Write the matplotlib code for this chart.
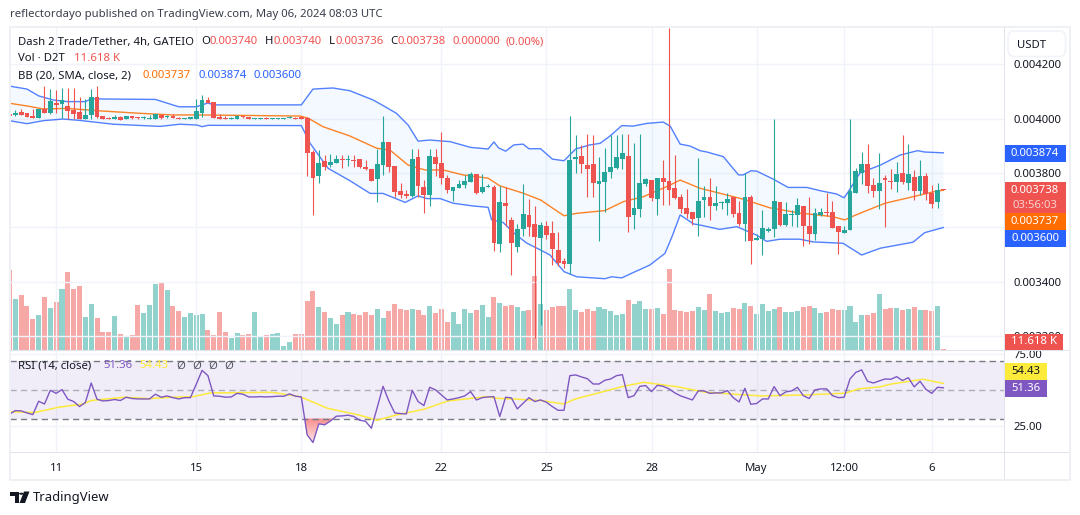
import numpy as np
import matplotlib
matplotlib.use("Agg")
import matplotlib.pyplot as plt
from matplotlib.patches import Rectangle, FancyBboxPatch, Polygon
from matplotlib.colors import LinearSegmentedColormap
from matplotlib.ticker import FuncFormatter

# ---- data (prices in millionths of USDT, first candle has index -1) ----
opens = [4017,4013,4023,4020,4009,4002,4035,4021,4057,4053,
         4046,4031,4024,3998,4013,4079,4009,4002,3998,4006,
         3998,4009,4006,4002,3998,3998,4013,4006,4009,4002,
         3998,3998,3998,4020,4068,4061,4006,4002,3998,3998,
         4009,4006,3998,3998,4002,4000,4000,4000,4002,4002,
         4004,4003,3877,3789,3844,3829,3837,3851,3848,3848,
         3851,3822,3815,3778,3829,3914,3826,3734,3723,3716,
         3859,3749,3719,3859,3837,3782,3734,3745,3756,3767,
         3796,3730,3749,3749,3540,3690,3628,3529,3595,3646,
         3613,3562,3606,3580,3518,3477,3466,3852,3863,3829,
         3833,3760,3767,3804,3819,3852,3863,3646,3668,3760,
         3774,3705,3782,3771,3745,3712,3672,3657,3635,3701,
         3712,3679,3690,3690,3712,3653,3613,3712,3554,3558,
         3587,3595,3694,3609,3646,3646,3679,3606,3576,3646,
         3657,3657,3606,3580,3591,3727,3800,3833,3756,3734,
         3782,3771,3767,3800,3763,3785,3734,3789,3727,3694,
         3740]
highs = [4017,4031,4035,4020,4035,4036,4119,4108,4105,4112,
         4112,4112,4079,4072,4108,4119,4009,4006,4013,4009,
         4009,4009,4006,4009,4013,4017,4013,4013,4017,4006,
         4002,4006,4072,4086,4079,4061,4017,4009,4006,4013,
         4009,4006,4002,4002,4006,4002,4002,4002,4009,4006,
         4006,4005,3884,3884,3866,3870,3866,3866,3866,3866,
         3851,3848,3815,3888,4009,3914,3826,3763,3738,3888,
         3888,3774,3888,3888,3951,3793,3749,3774,3793,3804,
         3796,3796,3760,3756,3752,3749,3639,3613,3760,3705,
         3679,3620,3624,3624,3584,3488,4009,3940,3903,3943,
         3940,3859,3892,3940,3940,3943,3943,3910,3943,3782,
         3774,3782,3848,4332,3866,3723,3741,3657,3855,3752,
         3782,3752,3697,3727,3712,3697,3800,3719,3576,3664,
         3602,4000,3694,3694,3664,3708,3679,3712,3672,3672,
         3727,3697,3606,3606,4000,3818,3877,3907,3782,3874,
         3793,3815,3840,3940,3907,3811,3848,3800,3756,3763,
         3740]
lows = [4009,4010,4013,4007,4003,4002,4020,4017,4019,4003,
        3998,3998,3998,3998,3998,4002,3998,3998,3998,3995,
        3998,3998,3998,3998,3998,3998,3998,4002,4002,3998,
        3998,3998,3998,4006,4057,4002,3998,3998,3998,3998,
        4002,3998,3998,3998,3998,3998,3998,3998,4002,3999,
        3998,3789,3647,3765,3811,3822,3837,3818,3826,3822,
        3818,3811,3771,3694,3793,3804,3712,3708,3708,3712,
        3712,3653,3679,3789,3760,3727,3697,3745,3745,3767,
        3723,3727,3749,3514,3510,3606,3426,3510,3569,3569,
        3196,3242,3558,3463,3459,3452,3430,3800,3800,3712,
        3712,3551,3657,3782,3815,3815,3584,3595,3639,3752,
        3697,3646,3683,3683,3705,3653,3635,3609,3569,3640,
        3628,3664,3668,3646,3639,3606,3551,3466,3554,3499,
        3584,3565,3606,3606,3606,3602,3532,3540,3554,3642,
        3642,3598,3503,3580,3591,3727,3760,3727,3712,3668,
        3602,3741,3730,3760,3738,3701,3719,3701,3672,3672,
        3736]
closes = [4009,4020,4013,4007,4003,4036,4020,4064,4050,4068,
          4028,4017,3998,4013,4079,4006,3998,3998,4006,3995,
          4009,4002,4002,4006,4002,4017,4002,4009,4002,3998,
          4002,4006,4028,4068,4057,4002,3998,3998,4002,4009,
          4006,3998,4002,4002,3998,4002,4002,4002,4006,3999,
          4000,3875,3782,3837,3822,3840,3851,3848,3851,3844,
          3822,3815,3771,3833,3914,3822,3730,3719,3716,3851,
          3752,3719,3863,3833,3782,3738,3749,3760,3771,3796,
          3727,3749,3752,3543,3694,3679,3543,3595,3650,3602,
          3565,3609,3573,3521,3470,3466,3848,3859,3833,3815,
          3763,3771,3804,3822,3859,3874,3639,3672,3763,3778,
          3708,3782,3767,3738,3708,3668,3650,3631,3697,3712,
          3679,3690,3694,3705,3650,3613,3712,3551,3562,3598,
          3595,3697,3609,3650,3650,3683,3606,3576,3653,3657,
          3653,3598,3584,3591,3734,3807,3833,3752,3734,3763,
          3774,3767,3796,3767,3796,3734,3789,3723,3686,3738,
          3738]
volumes = [241,154,166,133,94,106,160,127,145,184,
           235,184,193,100,139,97,55,55,103,49,
           40,46,136,112,136,199,202,181,133,118,
           100,112,106,109,61,46,115,55,37,52,
           46,49,115,40,46,49,52,13,25,49,
           49,148,178,130,115,97,79,106,115,109,
           106,115,106,124,97,118,139,124,121,124,
           121,106,133,112,124,85,115,79,124,112,
           121,136,100,160,142,133,136,130,118,121,
           223,139,121,130,133,133,184,121,115,124,
           118,130,124,118,106,109,151,139,148,124,
           124,127,109,244,121,118,115,118,130,121,
           169,118,112,115,127,124,142,133,109,139,
           118,124,130,115,115,118,130,133,127,112,
           115,124,121,121,133,85,106,106,112,169,
           124,127,127,121,124,130,121,121,118,133,
           3]
rsi = [33,35.5,35.3,33.9,32.7,42,40.1,49.6,47.5,50.1,
       43.4,41.8,38.3,41.1,54.7,43.4,42.2,42.5,43.2,42.5,
       44.8,43.9,43.6,43.6,43.6,46.9,44.8,45.7,44.5,43.6,
       44.5,44.5,53.8,63.5,59.8,45.7,45.5,44.8,45,47.5,
       46.9,45,45,45.2,45,45.2,45.5,45.5,47.1,45.5,
       45,18.6,13.3,26.3,25.6,28.3,31.6,31.8,32.3,31.4,
       28.8,28.1,23.2,37.6,52.4,42.2,33.9,33.4,33.2,49.6,
       41.8,39,51.7,49.9,46.4,42.9,43.6,44.5,45.7,48.7,
       42.9,44.5,45,45.2,31.4,44.8,44.3,36.7,40.6,44.5,
       41.8,42.9,41.3,38.3,35.7,35.7,59.8,60.3,58.9,57.7,
       54,54,56.6,57.5,59.8,60.5,44.5,45.9,52.4,52.9,
       48.7,53.1,52.4,50.6,47.8,45.7,44.3,42.9,49.2,49.2,
       47.5,47.8,47.8,49.4,44.5,41.5,51,39.9,40.4,43.6,
       43.6,52.2,45.9,48.5,49.2,51.7,45.9,43.9,49.9,50.6,
       50.6,45.9,44.5,44.8,57.5,62.1,63.8,55.9,54.7,56.1,
       57.5,57.3,59.1,56.4,58.4,52,55.9,50.3,47.5,51.7,
       51.36]
rsi_ma_idx = [-1,3.3,7.4,11.6,13,18.7,22.8,26.9,30.5,33.4,44,48.8,53.5,58.8,62,65.3,70,74.1,80.7,82.4,86,90,
              94,95.8,104,107.6,113.5,118.3,127.7,135.4,142.2,144.5,148.1,150.1,155.5,159]
rsi_ma = [34.8,34.1,37.8,40.1,42.5,44.8,43.8,44.8,45.2,47.8,48.2,45.2,37.1,32.5,28.8,32.5,36.4,42.2,45.2,44.1,43.4,42.5,
          40.1,43.4,52.2,55.2,52,48.2,45.7,46.4,47.6,50.6,52,54,57.3,54.43]
upper_idx = [-1,2,4,6.5,9,12,13,24,28,31,33,34,49,51,54.4,57.3,61.3,62.8,65.3,67.3,69,71,74.5,78,81,82,82.8,84,85.4,87,88,90,92,94,96,98.4,100.2,101.9,103.9,105.8,108.2,111,112.2,113.9,115.6,117.3,118.5,121.3,123.9,124.7,126,127,129.8,132.4,135.6,137.9,140.7,142,142.7,144.7,148.2,151.6,154.6,155.8,159]
upper = [4119,4108,4083,4068,4062,4062,4072,4070,4043,4043,4057,4050,4050,4108,4112,4102,4068,4050,4019,3976,3917,3921,3915,3894,3888,3914,3892,3880,3903,3906,3889,3889,3851,3845,3888,3903,3909,3936,3974,3972,3982,3987,3972,3906,3899,3882,3877,3860,3793,3793,3808,3807,3778,3747,3747,3735,3723,3709,3731,3800,3829,3866,3882,3877,3874]
mid_idx = [-1,2,4.8,8.8,14.5,21.4,27,31.6,48.8,50.2,52.7,57.3,61.9,64.2,67.3,70.2,73.3,76.7,81,83,87,90,94,96.2,101,104.2,107.6,111.6,113.9,117.3,124.7,129.3,134.4,140,142.1,144,149,153.8,157.3,159]
mid = [4056,4046,4035,4037,4028,4019,4013,4013,4009,4001,3970,3936,3891,3884,3829,3811,3811,3793,3781,3753,3726,3701,3643,3652,3662,3695,3713,3750,3774,3744,3704,3672,3653,3640,3628,3646,3689,3713,3731,3737]
lower_idx = [-1,2,4.8,8.2,11,16.8,24.8,28.2,31.1,32,33,49,50.5,53.6,57.3,60.8,63,66.8,69,70.5,72.8,75,78.4,81,81.6,83.6,85.4,87.6,90,91.6,94,96.2,101,102.2,103.9,105.8,108.7,111.3,112.5,113.9,116.2,117.3,120.7,123.6,127,128.7,131,134.4,136.7,141.8,145,148.2,153.8,155.8,159]
lower = [3992,3981,3992,3998,3993,3979,3971,3979,3976,3970,3975,3974,3909,3817,3772,3725,3725,3692,3716,3706,3706,3689,3679,3674,3628,3618,3580,3543,3517,3499,3438,3419,3412,3419,3415,3434,3462,3505,3566,3646,3613,3609,3593,3603,3572,3549,3557,3557,3547,3542,3499,3524,3546,3581,3600]
date_ticks = [7,31,49,73,91,109,127,142,157]
date_labels = ["11","15","18","22","25","28","May","12:00","6"]
price_ticks = [0.0042,0.0040,0.0038,0.0036,0.0034,0.0032]
rsi_ticks = [75,25]

W, H = 1080, 515
plt.rcParams['font.family'] = ['Noto Sans', 'DejaVu Sans']
GREEN, RED = '#26a69a', '#ef5350'
GRID = '#f0f3fa'
TEXT = '#131722'
FS = 8.15

fig = plt.figure(figsize=(W/100, H/100), dpi=100, facecolor='white')

def axpx(x0, y0, x1, y1, **kw):
    return fig.add_axes([x0/W, 1-y1/H, (x1-x0)/W, (y1-y0)/H], **kw)

def t(x, y, s, color=TEXT, size=FS, ha='left', **kw):
    return fig.text(x/W, 1-y/H, s, color=color, fontsize=size, ha=ha, va='center', zorder=20, **kw)

def box(x0, y0, x1, y1, color, z=15):
    fig.add_artist(Rectangle((x0/W, 1-y1/H), (x1-x0)/W, (y1-y0)/H, transform=fig.transFigure,
                             facecolor=color, edgecolor='none', zorder=z))

idx = np.arange(-1, 160)
o, h, l, c = (np.array(v)/1e6 for v in (opens, highs, lows, closes))
xlim = ((10-15.3)/5.837, (1004-15.3)/5.837)
plo, phi = 0.004-(350-118.5)*3.67e-6, 0.004+(118.5-27)*3.67e-6

# volume (under the price panel)
vax = axpx(10, 27, 1004, 350)
vax.set_xlim(xlim); vax.set_ylim(0, 969); vax.axis('off')
up = c >= o
vax.bar(idx, volumes, width=0.86, color=np.where(up, GREEN, RED), alpha=0.5, linewidth=0)

# price panel
ax = axpx(10, 27, 1004, 350)
ax.patch.set_visible(False)
ax.set_xlim(xlim); ax.set_ylim(plo, phi)
ax.yaxis.tick_right()
ax.set_yticks(price_ticks)
# the 0.003600 tick sits fully behind the value boxes, which carry that number
ax.yaxis.set_major_formatter(FuncFormatter(lambda v, _: "" if abs(v-0.0036) < 1e-7 else f"{v:.6f}"))
ax.tick_params(axis='y', length=0, pad=7, labelsize=FS, labelcolor=TEXT)
ax.set_xticks(date_ticks); ax.tick_params(axis='x', length=0, labelbottom=False)
ax.grid(True, color=GRID, lw=1); ax.set_axisbelow(True)
for s in ax.spines.values(): s.set_visible(False)

bx = np.r_[upper_idx, np.array(lower_idx)[::-1]]
by = np.r_[upper, np.array(lower)[::-1]]/1e6
ax.fill(bx, by, color='#2196f3', alpha=0.05, lw=0, zorder=1)
ax.plot(upper_idx, np.array(upper)/1e6, color='#2962ff', lw=1.0, alpha=0.8, zorder=2)
ax.plot(lower_idx, np.array(lower)/1e6, color='#2962ff', lw=1.0, alpha=0.8, zorder=2)
ax.plot(mid_idx, np.array(mid)/1e6, color='#ff6d00', lw=1.0, alpha=0.85, zorder=2)

cols = np.where(up, GREEN, RED)
ax.vlines(idx, l, h, colors=cols, lw=0.8, zorder=3)
ax.bar(idx, np.abs(c-o), bottom=np.minimum(o, c), width=0.82, color=cols, linewidth=0, zorder=4)

# RSI panel
rax = axpx(10, 350.5, 1004, 452)
rax.set_xlim(xlim); rax.set_ylim(6.7, 77.3)
rax.yaxis.tick_right()
rax.set_yticks(rsi_ticks)
rax.yaxis.set_major_formatter(FuncFormatter(lambda v, _: f"{v:.2f}"))
rax.tick_params(axis='y', length=0, pad=7, labelsize=FS, labelcolor=TEXT)
rax.set_xticks(date_ticks); rax.set_xticklabels(date_labels)
rax.tick_params(axis='x', length=0, pad=8, labelsize=FS, labelcolor=TEXT)
rax.grid(True, color=GRID, lw=1); rax.set_axisbelow(True)
for s in rax.spines.values(): s.set_visible(False)
rax.axhspan(30, 70, color='#7e57c2', alpha=0.1, lw=0, zorder=1)
for lv, a in ((70, 1), (50, .55), (30, 1)):
    rax.axhline(lv, color='#787b86', lw=1, dashes=(4.5, 3), alpha=a, zorder=2)
cmap = LinearSegmentedColormap.from_list('os', ['#fde7e7', '#f88d8d'])
im = rax.imshow(np.linspace(0, 1, 64)[:, None], extent=[xlim[0], xlim[1], 30, 13], cmap=cmap, aspect='auto', zorder=1.5)
rr = np.array(rsi)
poly = rax.fill_between(idx, rr, 30, where=rr < 30, interpolate=True, color='none')
im.set_clip_path(poly.get_paths()[0], transform=rax.transData)
rax.set_xlim(xlim); rax.set_ylim(6.7, 77.3)
rax.plot(rsi_ma_idx, rsi_ma, color='#fde93b', lw=1.1, zorder=3)
rax.plot(idx, rsi, color='#7e57c2', lw=1.0, zorder=4)

# frame and separators
for (a, b, cc, d) in ((9, 26, 1070, 27.5), (9, 478.5, 1070, 480.5), (9, 26, 10.5, 480.5), (1068.5, 26, 1070.5, 480.5)):
    box(a, b, cc, d, '#eef0f6', 12)
box(1003.5, 27, 1005, 479, '#e0e3eb', 12)
box(10, 350, 1069, 351.2, '#e0e3eb', 12)
box(10, 451.8, 1069, 453, '#e0e3eb', 12)

# right-hand value boxes
fig.add_artist(FancyBboxPatch((1008/W, 1-56.5/H), 57.5/W, 25.5/H, boxstyle='round,pad=0,rounding_size=0.006',
                              mutation_aspect=W/H, transform=fig.transFigure, facecolor='white',
                              edgecolor=GRID, lw=1.2, zorder=13))
t(1017, 45, "USDT")
box(1004.5, 145, 1066, 162, '#2962ff'); t(1035, 153.5, "0.003874", 'white', ha='center', weight='medium')
box(1004.5, 182, 1066, 213, RED); t(1035, 190.5, "0.003738", 'white', ha='center', weight='medium')
t(1035, 205, "03:56:03", '#fbd0cf', ha='center')
box(1004.5, 213, 1066, 230, '#ff6d00'); t(1035, 221.5, "0.003737", 'white', ha='center', weight='medium')
box(1004.5, 230, 1066, 246.7, '#2962ff'); t(1035, 238.5, "0.003600", 'white', ha='center', weight='medium')
box(1004.5, 334, 1063, 350, RED); t(1034, 342, "11.618 K", 'white', ha='center', weight='medium')
box(1004.5, 363, 1047, 380, '#fdeb3b'); t(1026, 371.5, "54.43", TEXT, ha='center')
box(1004.5, 380, 1047, 397, '#7e57c2'); t(1026, 388.5, "51.36", 'white', ha='center', weight='medium')

# header text
t(10, 15, "reflectordayo published on TradingView.com, May 06, 2024 08:03 UTC", '#3a3e4a')
t(18, 42, "Dash 2 Trade/Tether, 4h, GATEIO", TEXT)
for x, s, col in ((201, "O", TEXT), (209, "0.003740", RED), (265, "H", TEXT), (273, "0.003740", RED),
                  (328.5, "L", TEXT), (335, "0.003736", RED), (390, "C", TEXT), (397, "0.003738", RED),
                  (452.5, "0.000000", RED), (505.5, "(0.00%)", RED)):
    t(x, 42, s, col)
t(18, 58.5, "Vol · D2T", TEXT); t(74, 58.5, "11.618 K", RED)
t(18, 75.5, "BB (20, SMA, close, 2)", TEXT)
t(142.5, 75.5, "0.003737", '#ff6d00'); t(198.5, 75.5, "0.003874", '#2962ff'); t(254, 75.5, "0.003600", '#2962ff')
t(18, 366, "RSI (14, close)", TEXT); t(103, 366, "51.36", '#7e57c2'); t(139, 366, "54.43", '#fde93b')
for x in (176, 192, 208, 224):
    t(x, 366, "Ø", '#50535e')

# TradingView mark
def lp(pts):
    return [(x/W, 1-y/H) for x, y in pts]
for pts in ([(10, 491.5), (19, 491.5), (19, 503), (14.5, 503), (14.5, 496), (10, 496)],
            [(24, 491.5), (29.5, 491.5), (25, 503), (19.5, 503)]):
    fig.add_artist(Polygon(lp(pts), closed=True, transform=fig.transFigure, facecolor='#131722', edgecolor='none', zorder=20))
fig.add_artist(plt.Circle((21.3/W, 1-493.7/H), 2.2/W, transform=fig.transFigure, facecolor='#131722', edgecolor='none', zorder=20))
t(33, 497, "TradingView", '#131722', size=9.4)

fig.savefig("out.png", dpi=100, facecolor='white')
